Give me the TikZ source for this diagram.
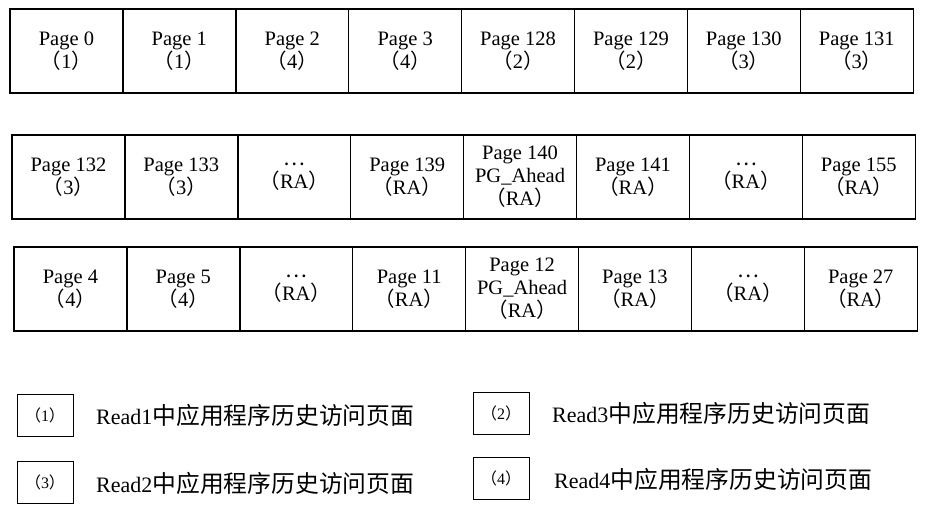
\documentclass[tikz,border=0pt]{standalone}
\usepackage{fontspec}
\setmainfont{Liberation Serif}
\newfontfamily\cjk{Noto Sans CJK SC}
\newcommand\fwp[1]{{\cjk （}#1{\cjk ）}}
\newcommand\cjkdots{{\cjk …}}
\begin{document}
\begin{tikzpicture}[x=1pt,y=-1pt,
  cell/.style={draw, line width=1.4pt, rectangle, minimum width=112.9pt, minimum height=84pt,
    inner sep=0pt, align=center, font={\fontsize{20.5}{23}\selectfont}},
  keybox/.style={draw, line width=0.9pt, rectangle, minimum width=56pt, minimum height=42pt,
    inner sep=0pt, font={\fontsize{16}{18}\selectfont}},
  keytext/.style={anchor=west, inner sep=0pt, font={\fontsize{22}{26}\selectfont}}]
\useasboundingbox (0,0) rectangle (927,507);
% Row 1
\def\xa{10}
\node[cell] (a1) at ({\xa+0.5*112.9},51) {Page 0\\\fwp{1}};
\node[cell] (a2) at ({\xa+1.5*112.9},51) {Page 1\\\fwp{1}};
\node[cell] (a3) at ({\xa+2.5*112.9},51) {Page 2\\\fwp{4}};
\node[cell] (a4) at ({\xa+3.5*112.9},51) {Page 3\\\fwp{4}};
\node[cell] (a5) at ({\xa+4.5*112.9},51) {Page 128\\\fwp{2}};
\node[cell] (a6) at ({\xa+5.5*112.9},51) {Page 129\\\fwp{2}};
\node[cell] (a7) at ({\xa+6.5*112.9},51) {Page 130\\\fwp{3}};
\node[cell] (a8) at ({\xa+7.5*112.9},51) {Page 131\\\fwp{3}};
% Row 2
\def\xb{12}
\node[cell] (b1) at ({\xb+0.5*112.9},177) {Page 132\\\fwp{3}};
\node[cell] (b2) at ({\xb+1.5*112.9},177) {Page 133\\\fwp{3}};
\node[cell] (b3) at ({\xb+2.5*112.9},177) {\cjkdots\\\fwp{RA}};
\node[cell] (b4) at ({\xb+3.5*112.9},177) {Page 139\\\fwp{RA}};
\node[cell] (b5) at ({\xb+4.5*112.9},177) {Page 140\\PG\_Ahead\\\fwp{RA}};
\node[cell] (b6) at ({\xb+5.5*112.9},177) {Page 141\\\fwp{RA}};
\node[cell] (b7) at ({\xb+6.5*112.9},177) {\cjkdots\\\fwp{RA}};
\node[cell] (b8) at ({\xb+7.5*112.9},177) {Page 155\\\fwp{RA}};
% Row 3
\def\xc{14}
\node[cell] (c1) at ({\xc+0.5*112.9},289) {Page 4\\\fwp{4}};
\node[cell] (c2) at ({\xc+1.5*112.9},289) {Page 5\\\fwp{4}};
\node[cell] (c3) at ({\xc+2.5*112.9},289) {\cjkdots\\\fwp{RA}};
\node[cell] (c4) at ({\xc+3.5*112.9},289) {Page 11\\\fwp{RA}};
\node[cell] (c5) at ({\xc+4.5*112.9},289) {Page 12\\PG\_Ahead\\\fwp{RA}};
\node[cell] (c6) at ({\xc+5.5*112.9},289) {Page 13\\\fwp{RA}};
\node[cell] (c7) at ({\xc+6.5*112.9},289) {\cjkdots\\\fwp{RA}};
\node[cell] (c8) at ({\xc+7.5*112.9},289) {Page 27\\\fwp{RA}};
% Legend
\node[keybox] (k1) at (45,415) {\fwp{1}};
\node[keybox] (k3) at (45,482) {\fwp{3}};
\node[keybox] (k2) at (501,413) {\fwp{2}};
\node[keybox] (k4) at (501,478) {\fwp{4}};
\node[keytext] (t1) at (96,415) {Read1{\cjk\fontsize{23.8}{28}\selectfont 中应用程序历史访问页面}};
\node[keytext] (t3) at (96,483) {Read2{\cjk\fontsize{23.8}{28}\selectfont 中应用程序历史访问页面}};
\node[keytext] (t2) at (552,413) {Read3{\cjk\fontsize{23.8}{28}\selectfont 中应用程序历史访问页面}};
\node[keytext] (t4) at (554,479) {Read4{\cjk\fontsize{23.8}{28}\selectfont 中应用程序历史访问页面}};
\end{tikzpicture}
\end{document}
